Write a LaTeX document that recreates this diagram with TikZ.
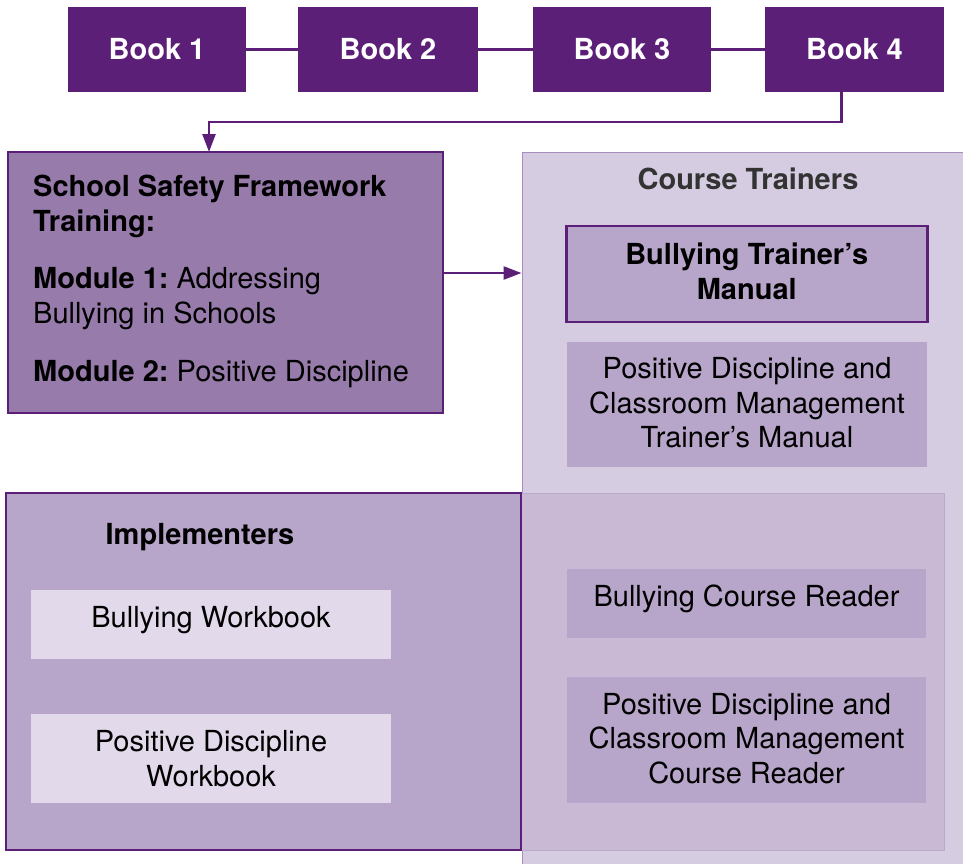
\documentclass[tikz,border=0pt]{standalone}
\usepackage{fontspec}
\setmainfont{TeX Gyre Heros}
\usetikzlibrary{arrows.meta}
\definecolor{dpurple}{HTML}{5C1F78}
\definecolor{ssffill}{HTML}{977BAB}
\definecolor{ctfill}{HTML}{D6CCE2}
\definecolor{midfill}{HTML}{B8A6CA}
\definecolor{lightfill}{HTML}{E2DAEA}
\definecolor{overfill}{HTML}{C9B9D5}
\definecolor{ctborder}{HTML}{A68DBE}
\definecolor{ovborder}{HTML}{BBA8CD}
\definecolor{titlegray}{HTML}{333333}
\newcommand{\lift}[1]{\rule[-#1]{0pt}{0pt}}
\begin{document}
\frenchspacing
\begin{tikzpicture}[x=1pt,y=-1pt,
  txt/.style={font=\fontsize{29}{34.5}\selectfont},
  boldtxt/.style={font=\fontsize{29}{34.5}\selectfont\bfseries},
  book/.style={fill=dpurple, draw=none, text=white, boldtxt, minimum height=85pt, inner sep=0pt},
  inbox/.style={fill=midfill, inner sep=0pt, align=center, txt},
  wbox/.style={fill=lightfill, inner sep=0pt, align=center, txt, minimum width=360pt},
  oneline/.style={text height=19pt, text depth=14pt},
  conn/.style={draw=dpurple, line width=2.5pt},
  arr/.style={conn, -{Triangle[length=18pt,width=13pt]}, dpurple},
]
\clip (0,0) rectangle (963,863);
% books
\node[book, minimum width=178pt] (b1) at (157,49.5) {Book 1};
\node[book, minimum width=180pt] (b2) at (388,49.5) {Book 2};
\node[book, minimum width=178pt] (b3) at (622,49.5) {Book 3};
\node[book, minimum width=179pt] (b4) at (854.5,49.5) {Book 4};
\draw[conn] (b1) -- (b2);
\draw[conn] (b2) -- (b3);
\draw[conn] (b3) -- (b4);
% course trainers background
\node[fill=ctfill, draw=ctborder, line width=1pt, anchor=north west, minimum width=470pt, minimum height=740pt, inner sep=0pt] (ct) at (521.5,152) {};
\node[boldtxt, text=titlegray] (cttitle) at (748,179) {Course Trainers};
% overlap region and implementers
\node[fill=overfill, draw=ovborder, line width=1pt, minimum width=423pt, minimum height=357pt, inner sep=0pt] (ov) at (732.5,671.5) {};
\node[fill=midfill, draw=dpurple, line width=1.2pt, minimum width=515pt, minimum height=357pt, inner sep=0pt] (imp) at (263.5,671.5) {};
\node[boldtxt] (imptitle) at (200,537) {Implementers};
% SSF box
\node[fill=ssffill, draw=dpurple, line width=1.2pt, minimum width=435pt, minimum height=261pt, inner sep=0pt] (ssf) at (225.5,282.5) {};
\node[boldtxt, anchor=west, align=left, inner sep=0pt] (ssft) at (33,206.5) {School Safety Framework\\Training:};
\node[txt, anchor=west, align=left, inner sep=0pt] (m1) at (33,298.5) {\textbf{Module 1:} Addressing\\Bullying in Schools};
\node[txt, anchor=west, align=left, inner sep=0pt] (m2) at (33,374) {\textbf{Module 2:} Positive Discipline};
% arrows
\coordinate (b4out) at (841.5,92);
\coordinate (k1) at (841.5,122);
\coordinate (k2) at (209,122);
\coordinate (ssfin) at (209,152);
\draw[arr] (b4out) -- (k1) -- (k2) -- (ssfin);
\coordinate (ssfout) at (443,273);
\coordinate (ctin) at (521.5,273);
\draw[arr] (ssfout) -- (ctin);
% course trainer boxes
\node[inbox, draw=dpurple, line width=2.5pt, boldtxt, minimum width=361pt, minimum height=96pt] (btm) at (746.75,274) {Bullying Trainer’s\\Manual\lift{6pt}};
\node[inbox, minimum width=360pt, minimum height=125pt] (pdtm) at (747,404.5) {Positive Discipline and\\Classroom Management\\Trainer’s Manual\lift{4pt}};
\node[inbox, oneline, minimum width=359pt, minimum height=69pt] (bcr) at (746.5,603.5) {Bullying Course Reader};
\node[inbox, minimum width=359pt, minimum height=126pt] (pdcr) at (746.5,740) {Positive Discipline and\\Classroom Management\\Course Reader\lift{4pt}};
% workbooks
\node[wbox, oneline, minimum height=69pt] (bw) at (211,624.5) {Bullying Workbook};
\node[wbox, minimum height=89pt] (pdw) at (211,758.5) {Positive Discipline\\Workbook};
\end{tikzpicture}
\end{document}
